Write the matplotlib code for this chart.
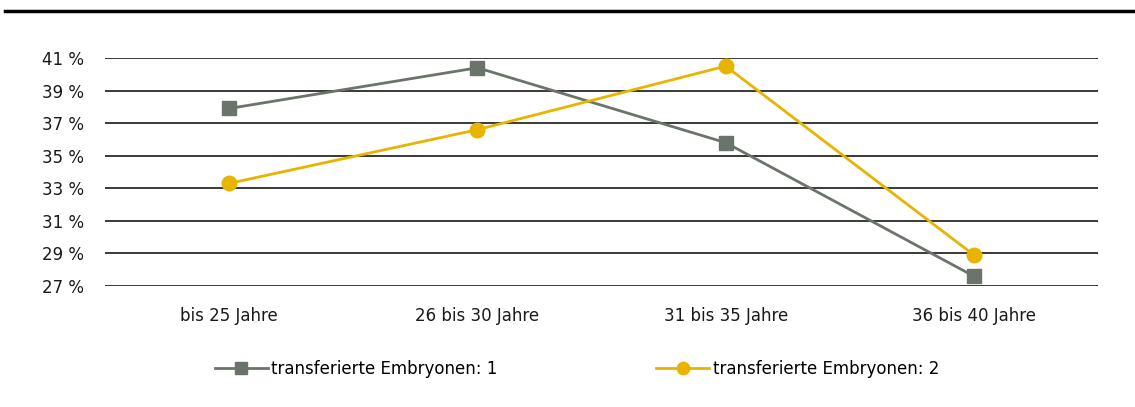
import matplotlib.pyplot as plt
from matplotlib.lines import Line2D

categories = ["bis 25 Jahre", "26 bis 30 Jahre", "31 bis 35 Jahre", "36 bis 40 Jahre"]
embryo_1 = [37.9, 40.4, 35.8, 27.6]
embryo_2 = [33.3, 36.6, 40.5, 28.9]
yticks = [27, 29, 31, 33, 35, 37, 39, 41]
series_names = ["transferierte Embryonen: 1", "transferierte Embryonen: 2"]

gray = "#6b746a"
yellow = "#e8b400"
plt.rcParams["font.family"] = ["DejaVu Sans"]
fs = 12

fig = plt.figure(figsize=(11.35, 4.07), dpi=100)
ax = fig.add_axes([0.0925, 0.2973, 0.875, 0.5602])

# top rule
fig.add_artist(Line2D([0.004, 1.0], [0.972, 0.972], color="black", lw=2.5,
                      transform=fig.transFigure))

for y in yticks:
    ax.axhline(y, color="#2a2a2a", lw=1.3, zorder=1)

x = range(len(categories))
ax.plot(x, embryo_1, color=gray, lw=2, marker="s", markersize=10,
        clip_on=False, zorder=3, label=series_names[0])
ax.plot(x, embryo_2, color=yellow, lw=2, marker="o", markersize=10.5,
        clip_on=False, zorder=3, label=series_names[1])

ax.set_xlim(-0.5, len(categories) - 0.5)
ax.set_ylim(27, 41)
ax.set_yticks(yticks)
ax.set_yticklabels([f"{v} %" for v in yticks])
ax.set_xticks(list(x))
ax.set_xticklabels(categories)
ax.tick_params(axis="y", length=0, pad=15, labelsize=fs, colors="#1a1a1a")
ax.tick_params(axis="x", length=0, pad=15, labelsize=fs, colors="#1a1a1a")
for s in ax.spines.values():
    s.set_visible(False)

handles, labels = ax.get_legend_handles_labels()
for h, lab, xa in [(handles[0], labels[0], 0.189), (handles[1], labels[1], 0.578)]:
    leg = fig.legend([h], [lab], loc="center left", bbox_to_anchor=(xa, 0.093),
                     frameon=False, fontsize=fs, handlelength=3.2, handletextpad=0.2,
                     borderpad=0, borderaxespad=0, markerscale=0.85)

fig.savefig("out.png", dpi=100)
